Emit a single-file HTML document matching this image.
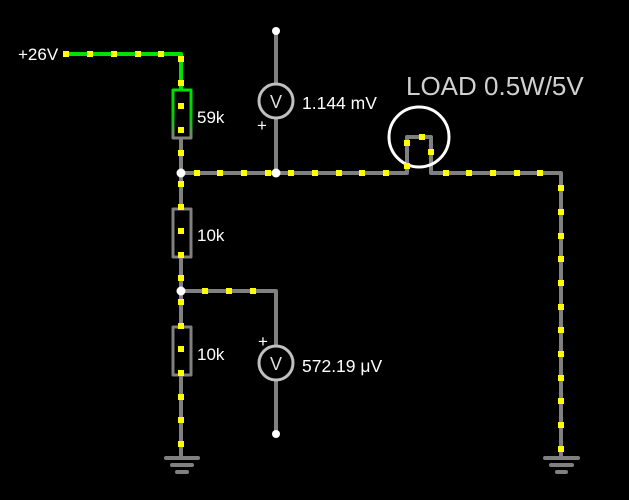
<!DOCTYPE html>
<html><head><meta charset="utf-8"><style>
html,body{margin:0;padding:0;background:#000;width:629px;height:500px;overflow:hidden}
svg{display:block}
text{font-family:"Liberation Sans",sans-serif;fill:#fff}
</style></head><body>
<svg width="629" height="500" viewBox="0 0 629 500" xmlns="http://www.w3.org/2000/svg">
<defs>
<linearGradient id="g" x1="0" y1="0" x2="0" y2="1">
<stop offset="0" stop-color="#00e000"/><stop offset="0.55" stop-color="#00d000"/><stop offset="1" stop-color="#808080"/>
</linearGradient>
</defs>
<g fill="none" stroke-linecap="round" stroke-linejoin="round">
<polyline points="66,54 181,54 181,90" stroke="#00e000" stroke-width="4"/>
<g stroke="#808080" stroke-width="4">
<line x1="181" y1="138" x2="181" y2="208"/>
<line x1="181" y1="258" x2="181" y2="326"/>
<line x1="181" y1="376" x2="181" y2="458"/>
<polyline points="181,173 407,173 407,137 431,137 431,173 561,173 561,458"/>
<line x1="276" y1="31" x2="276" y2="173"/>
<polyline points="181,291 276,291 276,434"/>
<line x1="166" y1="458" x2="198" y2="458"/>
<line x1="172" y1="465" x2="192" y2="465"/>
<line x1="177" y1="472" x2="187" y2="472"/>
<line x1="545" y1="458" x2="578" y2="458"/>
<line x1="551" y1="465" x2="572" y2="465"/>
<line x1="557" y1="472" x2="566" y2="472"/>
</g>
<rect x="173" y="90" width="18" height="48" fill="#000" stroke="url(#g)" stroke-width="3"/>
<rect x="173" y="209" width="18" height="48" fill="#000" stroke="#808080" stroke-width="3"/>
<rect x="173" y="327" width="18" height="48" fill="#000" stroke="#808080" stroke-width="3"/>
<circle cx="276" cy="101" r="17" fill="#000" stroke="#c0c0c0" stroke-width="3"/>
<circle cx="276" cy="363" r="17" fill="#000" stroke="#c0c0c0" stroke-width="3"/>
<circle cx="419" cy="137" r="30" stroke="#fff" stroke-width="3"/>
</g>
<g fill="#fff">
<circle cx="181" cy="173" r="4.5"/><circle cx="276" cy="173" r="4.5"/>
<circle cx="181" cy="291" r="4.5"/><circle cx="276" cy="31" r="4"/><circle cx="276" cy="434" r="4"/>
</g>
<g fill="#ffff00">
<rect x="63" y="51" width="6" height="6"/><rect x="87" y="51" width="6" height="6"/><rect x="111" y="51" width="6" height="6"/><rect x="135" y="51" width="6" height="6"/><rect x="158" y="51" width="6" height="6"/>
<rect x="178" y="56" width="6" height="6"/><rect x="178" y="80" width="6" height="6"/><rect x="178" y="103" width="6" height="6"/><rect x="178" y="127" width="6" height="6"/><rect x="178" y="150" width="6" height="6"/>
<rect x="178" y="181" width="6" height="6"/><rect x="178" y="204" width="6" height="6"/><rect x="178" y="228" width="6" height="6"/><rect x="178" y="252" width="6" height="6"/><rect x="178" y="275" width="6" height="6"/>
<rect x="178" y="299" width="6" height="6"/><rect x="178" y="323" width="6" height="6"/><rect x="178" y="346" width="6" height="6"/><rect x="178" y="370" width="6" height="6"/><rect x="178" y="394" width="6" height="6"/><rect x="178" y="417" width="6" height="6"/><rect x="178" y="441" width="6" height="6"/>
<rect x="194" y="170" width="6" height="6"/><rect x="217" y="170" width="6" height="6"/><rect x="241" y="170" width="6" height="6"/><rect x="265" y="170" width="6" height="6"/><rect x="288" y="170" width="6" height="6"/><rect x="312" y="170" width="6" height="6"/><rect x="336" y="170" width="6" height="6"/><rect x="359" y="170" width="6" height="6"/><rect x="383" y="170" width="6" height="6"/>
<rect x="404" y="163" width="6" height="6"/><rect x="404" y="140" width="6" height="6"/><rect x="419" y="134" width="6" height="6"/><rect x="428" y="149" width="6" height="6"/>
<rect x="443" y="170" width="6" height="6"/><rect x="466" y="170" width="6" height="6"/><rect x="490" y="170" width="6" height="6"/><rect x="514" y="170" width="6" height="6"/><rect x="537" y="170" width="6" height="6"/>
<rect x="558" y="185" width="6" height="6"/><rect x="558" y="209" width="6" height="6"/><rect x="558" y="233" width="6" height="6"/><rect x="558" y="256" width="6" height="6"/><rect x="558" y="280" width="6" height="6"/><rect x="558" y="304" width="6" height="6"/><rect x="558" y="327" width="6" height="6"/><rect x="558" y="351" width="6" height="6"/><rect x="558" y="375" width="6" height="6"/><rect x="558" y="398" width="6" height="6"/><rect x="558" y="422" width="6" height="6"/><rect x="558" y="446" width="6" height="6"/>
<rect x="202" y="288" width="6" height="6"/><rect x="226" y="288" width="6" height="6"/><rect x="250" y="288" width="6" height="6"/>
</g>
<text x="18" y="60" font-size="17">+26V</text>
<text x="197" y="123" font-size="17">59k</text>
<text x="197" y="241" font-size="17">10k</text>
<text x="197" y="360" font-size="17">10k</text>
<text x="276" y="108" font-size="18" text-anchor="middle" style="fill:#ddd">V</text>
<text x="276" y="370" font-size="18" text-anchor="middle" style="fill:#ddd">V</text>
<text x="257" y="131" font-size="17">+</text>
<text x="258" y="347" font-size="17">+</text>
<text x="302" y="109" font-size="17.5">1.144 mV</text>
<text x="302" y="372" font-size="17.5">572.19 μV</text>
<text x="406" y="95" font-size="26" style="fill:#d0d0d0">LOAD 0.5W/5V</text>
</svg>
</body></html>
